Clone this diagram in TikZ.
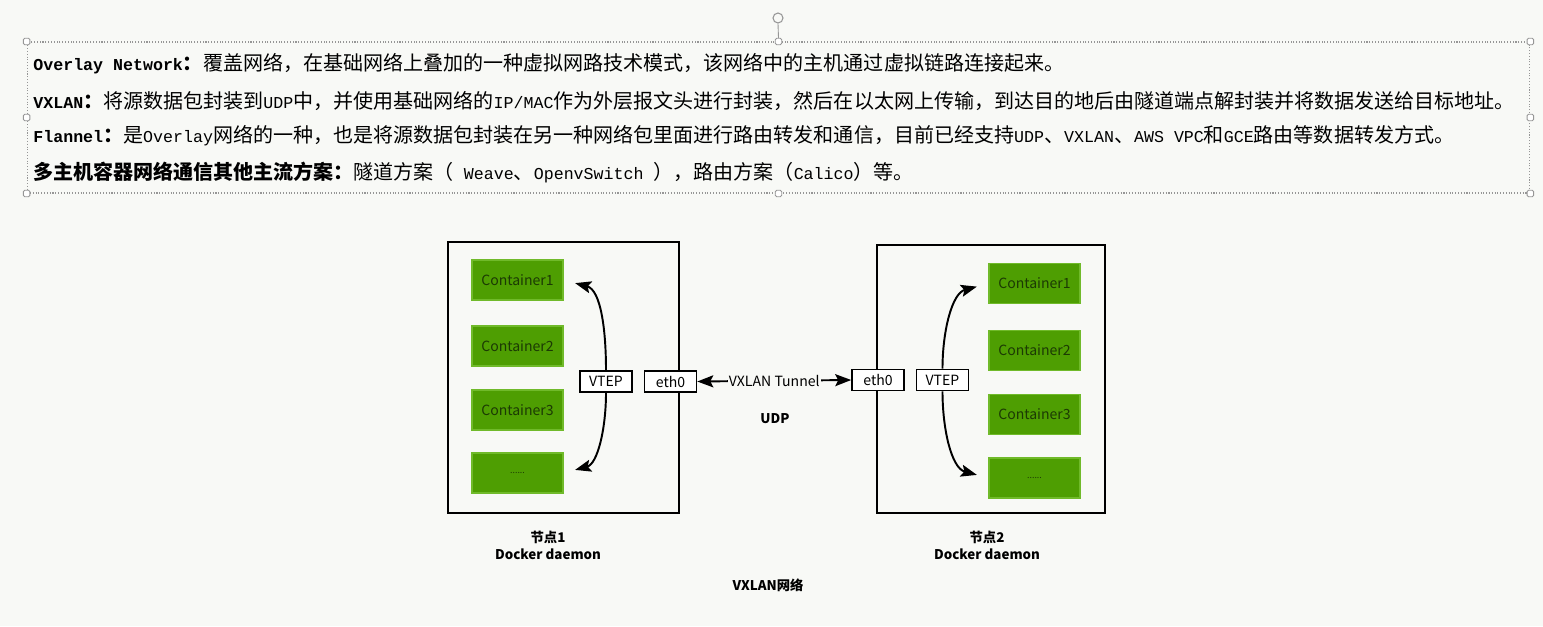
\documentclass[tikz,border=0pt]{standalone}
\usepackage{fontspec}
\setmainfont{Noto Sans CJK SC}
\newfontfamily\latmono{Liberation Mono}[Scale=0.83]
\usepackage{xcolor}
\usepackage{tikz}
\usetikzlibrary{arrows.meta, positioning}
\definecolor{pagebg}{RGB}{248,249,246}
\definecolor{framegray}{RGB}{150,150,150}
\definecolor{boxgreen}{RGB}{78,158,2}
\definecolor{boxedge}{RGB}{112,186,42}
\definecolor{boxtext}{RGB}{28,58,4}
\tikzstyle{textline} = [anchor=west, inner sep=0pt, font=\fontsize{11.4pt}{13pt}\selectfont]
\tikzstyle{handle} = [draw=framegray, fill=white, rounded corners=0.8pt, minimum size=0.13cm, inner sep=0pt, line width=0.5pt]
\tikzstyle{host} = [rectangle, draw=black, line width=1.1pt, inner sep=0pt]
\tikzstyle{container} = [rectangle, fill=boxgreen, draw=boxedge, line width=0.6pt, minimum width=1.82cm, minimum height=0.8cm, text=boxtext, font=\fontsize{8pt}{9pt}\selectfont]
\tikzstyle{port} = [rectangle, draw=black, fill=white, line width=0.9pt, minimum width=1.04cm, minimum height=0.42cm, inner sep=0pt, font=\fontsize{8pt}{9pt}\selectfont]
\tikzstyle{arrow} = [line width=1.1pt, -{Stealth[length=3.2mm,width=2.4mm,inset=0.6mm]}]
\tikzstyle{caption} = [font=\bfseries\fontsize{7.6pt}{9.6pt}\selectfont, align=center]

\begin{document}
\begin{tikzpicture}[x=0.02cm,y=-0.02cm]
\fill[pagebg] (0,0) rectangle (1543,626);
\useasboundingbox (0,0) rectangle (1543,626);

% selected text frame
\node[draw=framegray, densely dotted, line width=0.6pt, minimum width=30.06cm, minimum height=3.02cm] (frame) at (778.5,117.5) {};
\foreach \a in {north west,north,north east,west,east,south west,south,south east}
  \node[handle] at (frame.\a) {};
\node[draw=framegray, circle, line width=0.6pt, minimum size=0.2cm, inner sep=0pt] (rot) at (778,18) {};
\draw[framegray, line width=0.5pt] (rot.south) -- ([yshift=0.07cm]frame.north);

\node[textline] (ovl) at (33,64) {\textbf{\latmono Overlay Network}\textbf{：}覆盖网络，在基础网络上叠加的一种虚拟网路技术模式，该网络中的主机通过虚拟链路连接起来。};
\node[textline] (vxl) at (33,101) {\textbf{\latmono VXLAN}\textbf{：}将源数据包封装到{\latmono UDP}中，并使用基础网络的{\latmono IP/MAC}作为外层报文头进行封装，然后在以太网上传输，到达目的地后由隧道端点解封装并将数据发送给目标地址。};
\node[textline] (fla) at (33,136) {\textbf{\latmono Flannel}\textbf{：}是{\latmono Overlay}网络的一种，也是将源数据包封装在另一种网络包里面进行路由转发和通信，目前已经支持{\latmono UDP}、{\latmono VXLAN}、{\latmono AWS VPC}和{\latmono GCE}路由等数据转发方式。};
\node[textline] (multi) at (33,172) {\textbf{多主机容器网络通信其他主流方案：}隧道方案（{\latmono{} Weave}、{\latmono OpenvSwitch }），路由方案（{\latmono Calico}）等。};

% host 1
\node[host, minimum width=4.62cm, minimum height=5.42cm] (hostL) at (563.5,377.5) {};
\node[container] (c1L) at (517.5,280) {Container1};
\node[container] (c2L) at (517.5,346) {Container2};
\node[container] (c3L) at (517.5,410) {Container3};
\node[container] (c4L) at (517.5,473) {\fontsize{5pt}{6pt}\selectfont ......};
\node[port] (vtepL) at (606,381.5) {VTEP};
\node[port] (ethL) at (670.5,381.5) {eth0};
\draw[arrow, shorten >=0.24cm] (vtepL.north) to[out=90, in=-15] (c1L.east);
\draw[arrow, shorten >=0.24cm] (vtepL.south) to[out=-90, in=15] (c4L.east);
\node[port] at (606,381.5) {VTEP};

% host 2
\node[host, minimum width=4.56cm, minimum height=5.36cm] (hostR) at (991,379) {};
\node[container] (c1R) at (1034.5,283.5) {Container1};
\node[container] (c2R) at (1034.5,350.5) {Container2};
\node[container] (c3R) at (1034.5,414.5) {Container3};
\node[container] (c4R) at (1034.5,478) {\fontsize{5pt}{6pt}\selectfont ......};
\node[port] (ethR) at (878,380) {eth0};
\node[port] (vtepR) at (942.5,380) {VTEP};
\draw[arrow, shorten >=0.24cm] (vtepR.north) to[out=90, in=195] (c1R.west);
\draw[arrow, shorten >=0.24cm] (vtepR.south) to[out=-90, in=165] (c4R.west);
\node[port] at (942.5,380) {VTEP};

% tunnel
\draw[line width=1.1pt, {Stealth[length=3.2mm,width=2.4mm,inset=0.6mm]}-{Stealth[length=3.2mm,width=2.4mm,inset=0.6mm]}] (ethL.east) -- (ethR.west)
  node[midway, fill=pagebg, inner sep=0.5pt, font=\fontsize{8pt}{9pt}\selectfont] (tunnel) {VXLAN Tunnel};
\node[caption] (udp) at (775,419) {UDP};

\node[caption] (capL) at (548,545) {节点1\\Docker daemon};
\node[caption] (capR) at (987,545) {节点2\\Docker daemon};
\node[caption] (net) at (768,585) {VXLAN网络};
\end{tikzpicture}
\end{document}
